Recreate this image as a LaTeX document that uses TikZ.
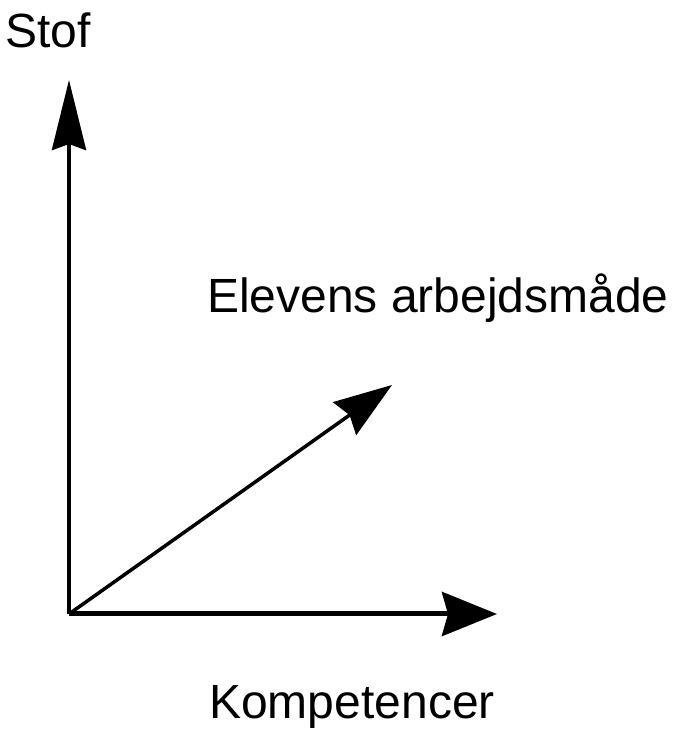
\documentclass[tikz,border=0pt]{standalone}
\usepackage{fontspec}
\setmainfont{Liberation Sans}
\usetikzlibrary{arrows.meta}
\begin{document}
\begin{tikzpicture}[x=1pt,y=1pt,
  axis/.style={line width=4pt,-{Stealth[length=58pt,width=40pt,inset=6pt]}},
  lbl/.style={font=\fontsize{48}{58}\selectfont,inner sep=0pt}]
\useasboundingbox (0,0) rectangle (676,729);
\coordinate (O) at (69,115);
\coordinate (Y) at (69,649);
\coordinate (X) at (497,115);
\coordinate (D) at (392,344);
\draw[axis,-{Stealth[length=70pt,width=34pt,inset=6pt]}] (O) -- (Y);
\draw[axis,line width=5pt,-{Stealth[length=55pt,width=44pt,inset=6pt]}] (O) -- (X);
\draw[axis,line width=3.5pt] (O) -- (D);
\node[lbl,anchor=base] (stof) at (48,681) {Stof};
\node[lbl,anchor=base] (elev) at (438,416) {Elevens arbejdsmåde};
\node[lbl,anchor=base] (komp) at (352,10) {Kompetencer};
\end{tikzpicture}
\end{document}
